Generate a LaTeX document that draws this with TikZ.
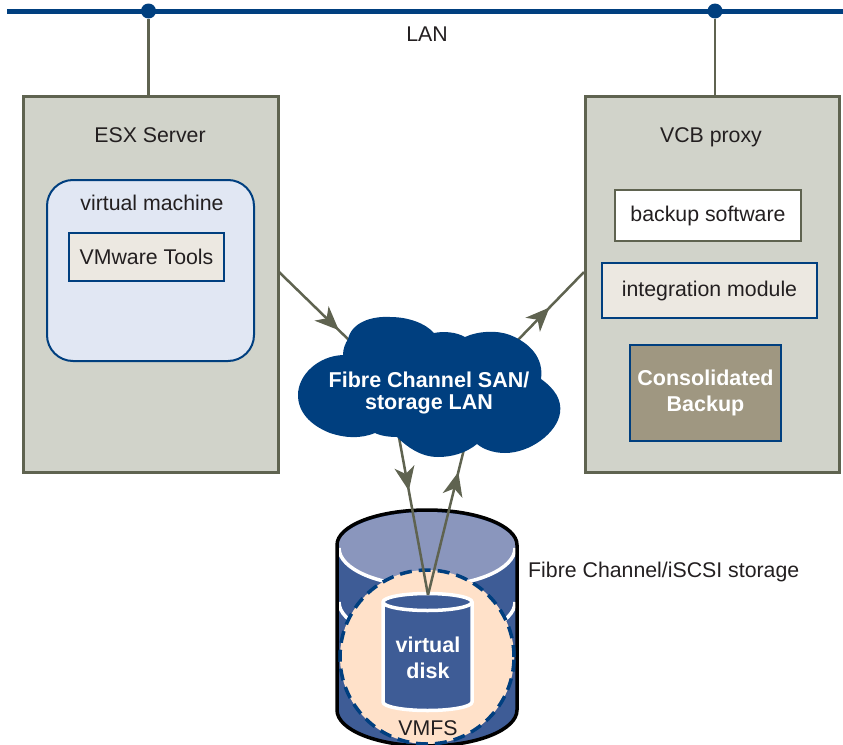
\documentclass[tikz,border=0pt]{standalone}
\usepackage{fontspec}
\setmainfont{Liberation Sans}
\usetikzlibrary{arrows.meta,decorations.markings,shapes.geometric}
\definecolor{navy}{HTML}{003F7F}
\definecolor{olive}{HTML}{5F6350}
\definecolor{boxgrey}{HTML}{D1D3CA}
\definecolor{vmfill}{HTML}{E1E7F3}
\definecolor{toolfill}{HTML}{ECE8E1}
\definecolor{consfill}{HTML}{9F9781}
\definecolor{diskblue}{HTML}{3E5C96}
\definecolor{disktop}{HTML}{8A96BD}
\definecolor{peach}{HTML}{FFE1C9}
\definecolor{inktext}{HTML}{231F20}
\newcommand{\txt}{\fontsize{21.3}{24}\selectfont}
\newcommand{\btxt}{\fontsize{21.5}{22.5}\selectfont\bfseries}
\tikzset{
  x=1pt,y=-1pt,
  serverbox/.style={draw=olive,fill=boxgrey,line width=2.5pt,anchor=north west,inner sep=0pt},
  bluebox/.style={draw=navy,line width=2pt,anchor=center,inner sep=0pt,text=inktext,font=\txt},
  label/.style={text=inktext,font=\txt,inner sep=0pt},
  boldlabel/.style={text=white,font=\btxt,align=center,inner sep=0pt},
  wire/.style={draw=olive,line width=2.5pt},
  dot/.style={circle,fill=navy,minimum size=15pt,inner sep=0pt},
  midhead/.style={postaction={decorate},decoration={markings,mark=at position #1 with {\arrow[olive]{Stealth[length=24pt,width=20pt,inset=7pt]}}}},
}
\begin{document}
\begin{tikzpicture}
\useasboundingbox (0,0) rectangle (843,744);
% LAN
\coordinate (lanL) at (7,11);
\coordinate (lanR) at (843,11);
\draw[navy,line width=5pt] (lanL) -- (lanR);
\node[dot] (dotL) at (148.5,11) {};
\node[dot] (dotR) at (715,11) {};
\node[label] (lan) at (427,34) {LAN};
% servers
\node[serverbox,minimum width=255pt,minimum height=376pt] (esx) at (22,95) {};
\node[serverbox,minimum width=254pt,minimum height=376pt] (vcb) at (584,95) {};
\draw[wire] (dotL) -- (esx.north -| dotL);
\draw[wire] (dotR) -- (vcb.north -| dotR);
\node[label] (esxt) at (150,135) {ESX Server};
\node[label] (vcbt) at (711,137) {VCB proxy};
\node[bluebox,fill=vmfill,rounded corners=26pt,minimum width=207pt,minimum height=181pt] (vm) at (150.5,270.5) {};
\node[label] (vmt) at (152,203) {virtual machine};
\node[bluebox,fill=toolfill,minimum width=155pt,minimum height=48pt] (tools) at (146.5,257) {VMware Tools};
\node[bluebox,draw=olive,line width=2.5pt,fill=white,minimum width=186pt,minimum height=51pt] (backup) at (708,215.5) {\raisebox{-1pt}{backup software}};
\node[bluebox,fill=toolfill,minimum width=215pt,minimum height=55pt] (integ) at (709.5,290.5) {\raisebox{-3pt}{integration module}};
\node[bluebox,fill=consfill,text=white,font=\btxt,align=center,minimum width=151pt,minimum height=96pt] (cons) at (705.5,393) {Consolidated\\[3pt]Backup};
% storage
\path[fill=diskblue] (337,545) arc[start angle=180,end angle=0,x radius=90pt,y radius=35pt] -- (517,710) arc[start angle=360,end angle=180,x radius=90pt,y radius=36pt] -- cycle;
\draw[white,line width=3.5pt] (339,602) arc[start angle=180,end angle=360,x radius=88pt,y radius=38pt];
\path[fill=disktop] (337,548) arc[start angle=180,end angle=0,x radius=90pt,y radius=36pt] arc[start angle=0,end angle=-180,x radius=90pt,y radius=38pt] -- cycle;
\draw[white,line width=3.5pt] (339,548) arc[start angle=180,end angle=360,x radius=88pt,y radius=38pt];
\draw[black,line width=3.5pt] (337,710) -- (337,545) arc[start angle=180,end angle=0,x radius=90pt,y radius=35pt] -- (517,710) arc[start angle=360,end angle=180,x radius=90pt,y radius=36pt];
\node[ellipse,draw=navy,fill=peach,line width=3.5pt,dash pattern=on 12pt off 7pt,minimum width=174pt,minimum height=174pt,inner sep=0pt] (vmfs) at (427,657) {};
\path[fill=diskblue,draw=white,line width=3.5pt] (383,602) -- (383,702) arc[start angle=180,end angle=360,x radius=44.5pt,y radius=8.5pt] -- (472,602) arc[start angle=0,end angle=180,x radius=44.5pt,y radius=8.5pt] -- cycle;
\draw[white,line width=3.5pt] (383,602) arc[start angle=180,end angle=360,x radius=44.5pt,y radius=8.5pt];
\node[boldlabel] (vdisk) at (428,658) {virtual\\[4pt]disk};
\node[label] (vmfst) at (428,728) {VMFS};
\node[label,anchor=west] (fct) at (528,572) {Fibre Channel/iSCSI storage};
\coordinate (diskTop) at (428,595);
% connector end points on the cloud
\coordinate (cNW) at (352,343);
\coordinate (cNE) at (515,343);
\coordinate (cSL) at (398,432);
\coordinate (cSR) at (465,445);
\coordinate (esxE) at (279,272);
\coordinate (vcbW) at (584,272);
\draw[wire,midhead=0.82] (esxE) -- (cNW);
\draw[wire,midhead=0.5] (cNE) -- (vcbW);
\draw[wire,midhead=0.36] (cSL) -- (diskTop);
\draw[wire,midhead=0.82] (diskTop) -- (cSR);
% cloud
\path[fill=navy] (348,339)
  .. controls (352,322) and (372,316) .. (390,317)
  .. controls (408,317) and (425,323) .. (434,333)
  .. controls (444,331) and (456,332) .. (465,337)
  .. controls (478,331) and (497,330) .. (510,335)
  .. controls (530,343) and (544,358) .. (541,379)
  .. controls (555,389) and (562,400) .. (560,413)
  .. controls (557,433) and (530,453) .. (505,453)
  .. controls (493,453) and (483,449) .. (477,444)
  .. controls (466,453) and (452,457) .. (438,457)
  .. controls (421,457) and (407,447) .. (397,437)
  .. controls (390,437) and (381,436) .. (375,433)
  .. controls (360,439) and (345,438) .. (330,433)
  .. controls (310,425) and (298,412) .. (298,395)
  .. controls (298,375) and (318,356) .. (343,355)
  .. controls (343,349) and (345,344) .. (348,339) -- cycle;
\node[boldlabel] (san) at (429,393) {Fibre Channel SAN/\\storage LAN};
\end{tikzpicture}
\end{document}
